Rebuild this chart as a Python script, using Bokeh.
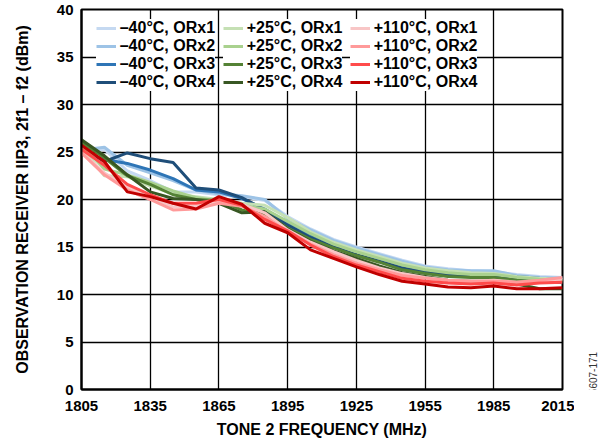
from bokeh.plotting import figure
from bokeh.models import Range1d, Legend, LegendItem, FixedTicker
from bokeh.layouts import row
from bokeh.embed import file_html
from bokeh.resources import INLINE
from bokeh.core.properties import value
from math import pi

freq = [1805, 1815, 1825, 1835, 1845, 1855, 1865, 1875, 1885, 1895, 1905,
        1915, 1925, 1935, 1945, 1955, 1965, 1975, 1985, 1995, 2005, 2015]

m40_orx1 = [25.0, 25.3, 23.0, 22.0, 20.8, 20.8, 20.5, 20.3, 19.9, 18.2, 16.9, 15.8, 15.0, 14.3, 13.6, 13.0, 12.7, 12.5, 12.4, 12.1, 11.9, 11.8]
m40_orx2 = [25.2, 25.5, 23.6, 22.8, 22.0, 21.0, 20.6, 20.4, 20.0, 18.0, 16.8, 15.7, 14.9, 14.2, 13.5, 12.9, 12.6, 12.5, 12.5, 12.0, 11.8, 11.7]
m40_orx3 = [25.0, 24.2, 23.8, 23.1, 22.2, 21.0, 20.8, 20.1, 19.0, 17.5, 16.3, 15.3, 14.6, 13.8, 13.1, 12.7, 12.4, 12.2, 12.1, 11.9, 11.7, 11.6]
m40_orx4 = [25.4, 24.0, 24.9, 24.3, 23.9, 21.2, 21.0, 20.2, 18.9, 17.3, 16.0, 15.0, 14.2, 13.5, 12.8, 12.4, 12.1, 12.0, 11.9, 11.5, 11.3, 11.3]

p25_orx1 = [25.5, 22.5, 22.4, 21.4, 20.6, 20.3, 20.0, 19.6, 19.4, 18.1, 16.6, 15.5, 14.7, 14.0, 13.3, 12.8, 12.5, 12.3, 12.2, 11.9, 11.7, 11.6]
p25_orx2 = [25.8, 23.2, 22.6, 21.8, 20.9, 20.2, 19.8, 19.4, 19.0, 17.7, 16.4, 15.3, 14.5, 13.8, 13.1, 12.6, 12.3, 12.1, 12.1, 11.8, 11.6, 11.5]
p25_orx3 = [26.0, 24.4, 22.5, 21.6, 20.5, 20.0, 19.9, 18.9, 18.5, 17.0, 15.8, 14.9, 14.1, 13.4, 12.6, 12.2, 11.9, 11.8, 11.8, 11.5, 11.3, 11.4]
p25_orx4 = [26.3, 24.6, 22.6, 20.8, 20.1, 20.0, 19.6, 18.6, 18.7, 16.9, 15.6, 14.6, 13.8, 13.0, 12.3, 11.9, 11.5, 11.4, 11.4, 11.1, 10.6, 10.6]

p110_orx1 = [25.0, 22.8, 21.3, 20.3, 19.2, 19.3, 19.8, 19.5, 18.6, 16.8, 15.5, 14.5, 13.6, 12.8, 12.2, 11.8, 11.5, 11.4, 11.5, 11.3, 11.4, 11.6]
p110_orx2 = [24.9, 22.6, 21.0, 20.0, 18.9, 19.0, 19.6, 19.3, 18.2, 16.6, 15.3, 14.2, 13.3, 12.6, 12.0, 11.7, 11.5, 11.4, 11.4, 11.3, 11.5, 11.8]
p110_orx3 = [25.3, 23.6, 21.6, 20.5, 19.6, 19.6, 20.0, 19.4, 17.9, 16.7, 15.2, 14.0, 13.1, 12.4, 11.7, 11.4, 11.2, 11.1, 11.2, 11.0, 11.2, 11.3]
p110_orx4 = [25.7, 24.0, 20.8, 20.3, 19.6, 19.0, 20.3, 19.5, 17.5, 16.5, 14.7, 13.8, 12.9, 12.1, 11.4, 11.1, 10.8, 10.7, 10.9, 10.6, 10.6, 10.7]

series_names = ["–40°C, ORx1", "–40°C, ORx2", "–40°C, ORx3", "–40°C, ORx4",
                "+25°C, ORx1", "+25°C, ORx2", "+25°C, ORx3", "+25°C, ORx4",
                "+110°C, ORx1", "+110°C, ORx2", "+110°C, ORx3", "+110°C, ORx4"]
series_values = [m40_orx1, m40_orx2, m40_orx3, m40_orx4,
                 p25_orx1, p25_orx2, p25_orx3, p25_orx4,
                 p110_orx1, p110_orx2, p110_orx3, p110_orx4]
colors = ["#c5d9f1", "#9dc3e6", "#2e75b6", "#1f4e79",
          "#c5e0b4", "#a9d18e", "#548235", "#385723",
          "#f8c6c6", "#ff9a9a", "#ff4b4b", "#c00000"]

x_ticks = [1805, 1835, 1865, 1895, 1925, 1955, 1985, 2015]
y_ticks = [0, 5, 10, 15, 20, 25, 30, 35, 40]
figure_id = "25607-171"

FONT = "Liberation Sans"
H = 444

p = figure(width=574, height=H, x_range=Range1d(1805, 2015), y_range=Range1d(0, 40),
           output_backend="svg", toolbar_location=None,
           min_border_left=81, min_border_right=12, min_border_top=9, min_border_bottom=55)

renderers = []
for vals, col in zip(series_values, colors):
    r = p.line(freq, vals, line_color=col, line_width=3)
    renderers.append(r)

p.xaxis.ticker = FixedTicker(ticks=x_ticks)
p.yaxis.ticker = FixedTicker(ticks=y_ticks)
for ax in (p.xaxis, p.yaxis):
    ax.minor_tick_line_color = None
    ax.major_tick_line_color = None
    ax.major_tick_out = 0
    ax.major_tick_in = 0
    ax.minor_tick_out = 0
    ax.minor_tick_in = 0
    ax.axis_line_color = "black"
    ax.axis_line_width = 2
    ax.major_label_text_font = FONT
    ax.major_label_text_font_style = "bold"
    ax.major_label_text_font_size = "15px"
    ax.major_label_text_color = "black"
    ax.axis_label_text_font = FONT
    ax.axis_label_text_font_style = "bold"
    ax.axis_label_text_font_size = "16px"
    ax.axis_label_text_color = "black"

p.xaxis.axis_label = "TONE 2 FREQUENCY (MHz)"
p.yaxis.axis_label = "OBSERVATION RECEIVER IIP3, 2f1 – f2 (dBm)"
p.xaxis.major_label_standoff = 11
p.xaxis.axis_label_standoff = 7
p.yaxis.major_label_standoff = 8
p.yaxis.axis_label_standoff = 23

p.xgrid.grid_line_color = "black"
p.ygrid.grid_line_color = "black"
p.xgrid.grid_line_width = 1.3
p.ygrid.grid_line_width = 1.3
p.outline_line_color = "black"
p.outline_line_width = 2
p.background_fill_color = "white"

col_x = [14.7, 141.7, 268.7]
for c in range(3):
    items = [LegendItem(label=series_names[c * 4 + i], renderers=[renderers[c * 4 + i]]) for i in range(4)]
    lg = Legend(items=items, location=(col_x[c], 298), orientation="vertical",
                glyph_width=20, glyph_height=16, label_height=16, spacing=0,
                padding=4, margin=0, label_standoff=4,
                label_text_font=FONT, label_text_font_style="bold",
                label_text_font_size="16px", label_text_color="black",
                border_line_color=None, background_fill_color="white",
                background_fill_alpha=1.0)
    p.add_layout(lg, "center")

# narrow side strip carrying the vertical figure number
p2 = figure(width=24, height=H, x_range=Range1d(0, 24), y_range=Range1d(0, H),
            output_backend="svg", toolbar_location=None,
            x_axis_location=None, y_axis_location=None,
            min_border_left=0, min_border_right=0, min_border_top=0, min_border_bottom=0)
p2.grid.visible = False
p2.outline_line_color = None
p2.text(x=[18], y=[16], text=[figure_id], angle=pi / 2, text_align="center",
        text_baseline="middle", text_font=value(FONT), text_font_size="10px",
        text_color="#333333")

layout = row(p, p2, spacing=0)
open("out.html", "w").write(file_html(layout, INLINE))
